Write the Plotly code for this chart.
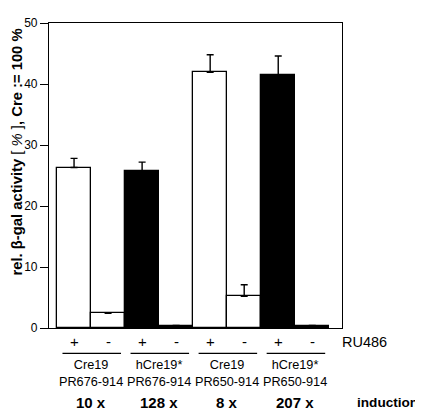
import plotly.graph_objects as go

# ---- data ----
bar_pos = [0, 1, 2, 3, 4, 5, 6, 7]
values = [26.3, 2.4, 25.8, 0.4, 41.9, 5.2, 41.5, 0.4]
err_up = [1.5, 0, 1.4, 0, 2.9, 1.9, 3.1, 0]
fills = ["white", "white", "black", "black", "white", "white", "black", "black"]
ru486 = ["+", "-", "+", "-", "+", "-", "+", "-"]
constructs = ["Cre19<br>PR676-914", "hCre19*<br>PR676-914",
              "Cre19<br>PR650-914", "hCre19*<br>PR650-914"]
induction = ["10 x", "128 x", "8 x", "207 x"]
pair_centers = [0.5, 2.5, 4.5, 6.5]

# page places the figure at an 8px body offset; work in window pixels
OFF = 8
W, H = 423 - OFF, 416 - OFF
L, R, T, B = 49 - OFF, 81, 16 - OFF, 88
PW, PH = W - L - R, H - T - B
FONT = "Liberation Sans, Arial, Helvetica, sans-serif"


def py(p):
    return (H - B - (p - OFF)) / PH


def px(p):
    return ((p - OFF) - L) / PW


fig = go.Figure()
fig.add_trace(go.Bar(
    x=bar_pos, y=values, width=1.0,
    marker=dict(color=fills, line=dict(color="black", width=1.3)),
    error_y=dict(type="data", array=err_up, arrayminus=[0] * 8, symmetric=False,
                 color="black", thickness=1.4, width=3.5, visible=True),
    showlegend=False, hoverinfo="skip",
))

annotations = []
for xi, s in zip(bar_pos, ru486):
    annotations.append(dict(x=xi, y=py(342), xref="x", yref="paper", text=s,
                            showarrow=False, font=dict(size=15, family=FONT, color="black"),
                            xanchor="center", yanchor="middle"))
annotations.append(dict(x=px(340), y=py(342), xref="paper", yref="paper", text="RU486",
                        showarrow=False, font=dict(size=14.5, family=FONT, color="black"),
                        xanchor="left", yanchor="middle"))
for c, t in zip(pair_centers, constructs):
    annotations.append(dict(x=c, y=py(375), xref="x", yref="paper", text=t,
                            showarrow=False, font=dict(size=12.7, family=FONT, color="black"),
                            xanchor="center", yanchor="middle"))
for c, t in zip(pair_centers, induction):
    annotations.append(dict(x=c, y=py(404), xref="x", yref="paper", text="<b>%s</b>" % t,
                            showarrow=False, font=dict(size=15, family=FONT, color="black"),
                            xanchor="center", yanchor="middle"))
annotations.append(dict(x=px(356), y=py(404), xref="paper", yref="paper", text="<b>induction</b>",
                        showarrow=False, font=dict(size=13.6, family=FONT, color="black"),
                        xanchor="left", yanchor="middle", borderpad=0))
annotations.append(dict(x=px(17.5), y=py(148), xref="paper", yref="paper",
                        text="<b>rel. β-gal activity</b> [ <i>%</i> ]<b>, Cre := 100 %</b>",
                        textangle=-90, showarrow=False,
                        font=dict(size=14.8, family=FONT, color="black"),
                        xanchor="center", yanchor="middle"))

shapes = []
for c in pair_centers:
    shapes.append(dict(type="line", xref="x", yref="paper", x0=c - 0.84, x1=c + 0.88,
                       y0=py(354), y1=py(354), line=dict(color="black", width=1.2)))

fig.update_layout(
    width=W, height=H,
    margin=dict(l=L, r=R, t=T, b=B, pad=0),
    paper_bgcolor="white", plot_bgcolor="white",
    bargap=0,
    font=dict(family=FONT, color="black"),
    annotations=annotations, shapes=shapes,
    xaxis=dict(range=[-0.736, 7.874], showticklabels=False, ticks="",
               showline=True, linecolor="black", linewidth=1.2, mirror=True,
               showgrid=False, zeroline=False, fixedrange=True),
    yaxis=dict(range=[0, 50], tickvals=[0, 10, 20, 30, 40, 50], ticks="outside",
               ticklen=8, tickwidth=1.2, tickcolor="black",
               tickfont=dict(size=12, family=FONT, color="black"),
               showline=True, linecolor="black", linewidth=1.2, mirror=True,
               showgrid=False, zeroline=False, fixedrange=True),
)

fig.write_html("out.html")
